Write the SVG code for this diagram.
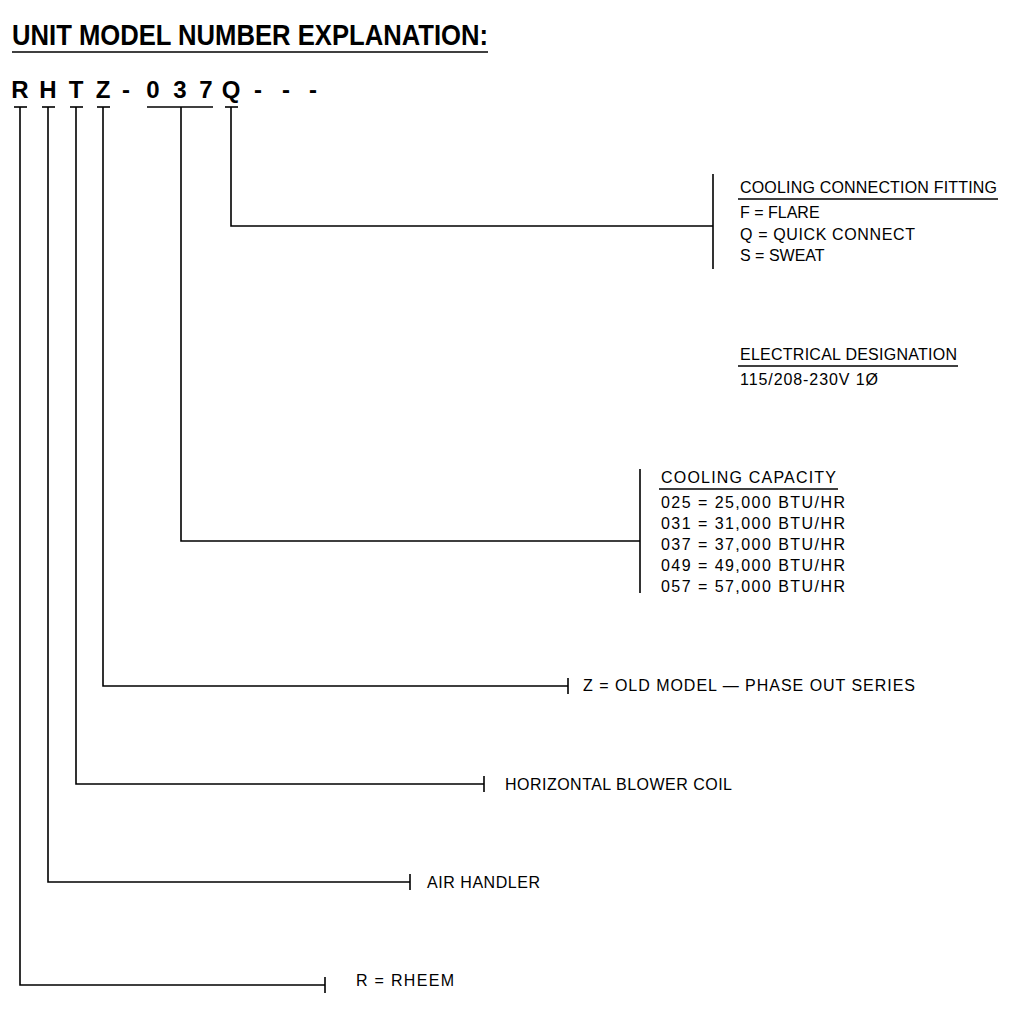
<svg xmlns="http://www.w3.org/2000/svg" width="1024" height="1011" viewBox="0 0 1024 1011">
<style>
text{font-family:"Liberation Sans",Arial,sans-serif;fill:#000}
.t{font-size:16px;lengthAdjust:spacingAndGlyphs}
.c{font-size:24px;font-weight:bold}
line,path,polyline{stroke:#000;stroke-width:1.6;fill:none}
</style>
<rect width="1024" height="1011" fill="#fff"/>
<g id="title">
<text x="12" y="45" font-size="30" font-weight="bold" textLength="476" lengthAdjust="spacingAndGlyphs">UNIT MODEL NUMBER EXPLANATION:</text>
<line x1="12" y1="52" x2="488" y2="52" stroke-width="2"/>
</g>
<g id="model" class="c">
<text class="c" x="20" y="98" text-anchor="middle">R</text>
<text class="c" x="48" y="98" text-anchor="middle">H</text>
<text class="c" x="76" y="98" text-anchor="middle">T</text>
<text class="c" x="103" y="98" text-anchor="middle">Z</text>
<text class="c" x="126" y="98" text-anchor="middle">-</text>
<text class="c" x="153" y="98" text-anchor="middle">0</text>
<text class="c" x="180" y="98" text-anchor="middle">3</text>
<text class="c" x="206" y="98" text-anchor="middle">7</text>
<text class="c" x="231" y="98" text-anchor="middle">Q</text>
<text class="c" x="258" y="98" text-anchor="middle">-</text>
<text class="c" x="286" y="98" text-anchor="middle">-</text>
<text class="c" x="313" y="98" text-anchor="middle">-</text>
</g>
<g id="connectors">
<line x1="14" y1="107" x2="27" y2="107"/><polyline points="20,107 20,985 325,985"/><line x1="325" y1="977" x2="325" y2="993"/>
<line x1="42" y1="107" x2="55" y2="107"/><polyline points="48,107 48,882 410,882"/><line x1="410" y1="874" x2="410" y2="890"/>
<line x1="70" y1="107" x2="83" y2="107"/><polyline points="76,107 76,784 484,784"/><line x1="484" y1="776" x2="484" y2="792"/>
<line x1="97" y1="107" x2="110" y2="107"/><polyline points="103,107 103,686 568,686"/><line x1="568" y1="678" x2="568" y2="694"/>
<line x1="147" y1="107" x2="213" y2="107"/><polyline points="181,107 181,541 640,541"/><line x1="640" y1="469" x2="640" y2="593"/>
<line x1="225" y1="107" x2="238" y2="107"/><polyline points="231,107 231,226 713,226"/><line x1="713" y1="174" x2="713" y2="269"/>
</g>
<g id="fitting">
<text class="t" x="740" y="193" textLength="257">COOLING CONNECTION FITTING</text>
<line x1="738" y1="199" x2="998" y2="199"/>
<text class="t" x="740" y="218">F  = FLARE</text>
<text class="t" x="740" y="240" textLength="175">Q  = QUICK CONNECT</text>
<text class="t" x="740" y="261">S  = SWEAT</text>
</g>
<g id="electrical">
<text class="t" x="740" y="360" textLength="217">ELECTRICAL DESIGNATION</text>
<line x1="738" y1="366" x2="958" y2="366"/>
<text class="t" x="740" y="385" textLength="138">115/208-230V 1Ø</text>
</g>
<g id="capacity">
<text class="t" x="661" y="483" textLength="175">COOLING CAPACITY</text>
<line x1="659" y1="489" x2="838" y2="489"/>
<text class="t" x="661" y="508" textLength="184">025  = 25,000 BTU/HR</text>
<text class="t" x="661" y="529" textLength="184">031  = 31,000 BTU/HR</text>
<text class="t" x="661" y="550" textLength="184">037  = 37,000 BTU/HR</text>
<text class="t" x="661" y="571" textLength="184">049  = 49,000 BTU/HR</text>
<text class="t" x="661" y="592" textLength="184">057  = 57,000 BTU/HR</text>
</g>
<g id="series"><text class="t" x="583" y="691" textLength="332">Z = OLD MODEL — PHASE OUT SERIES</text></g>
<g id="blower"><text class="t" x="505" y="790" textLength="227">HORIZONTAL BLOWER COIL</text></g>
<g id="air"><text class="t" x="427" y="888" textLength="113">AIR HANDLER</text></g>
<g id="rheem"><text class="t" x="356" y="986" textLength="98">R = RHEEM</text></g>
</svg>
